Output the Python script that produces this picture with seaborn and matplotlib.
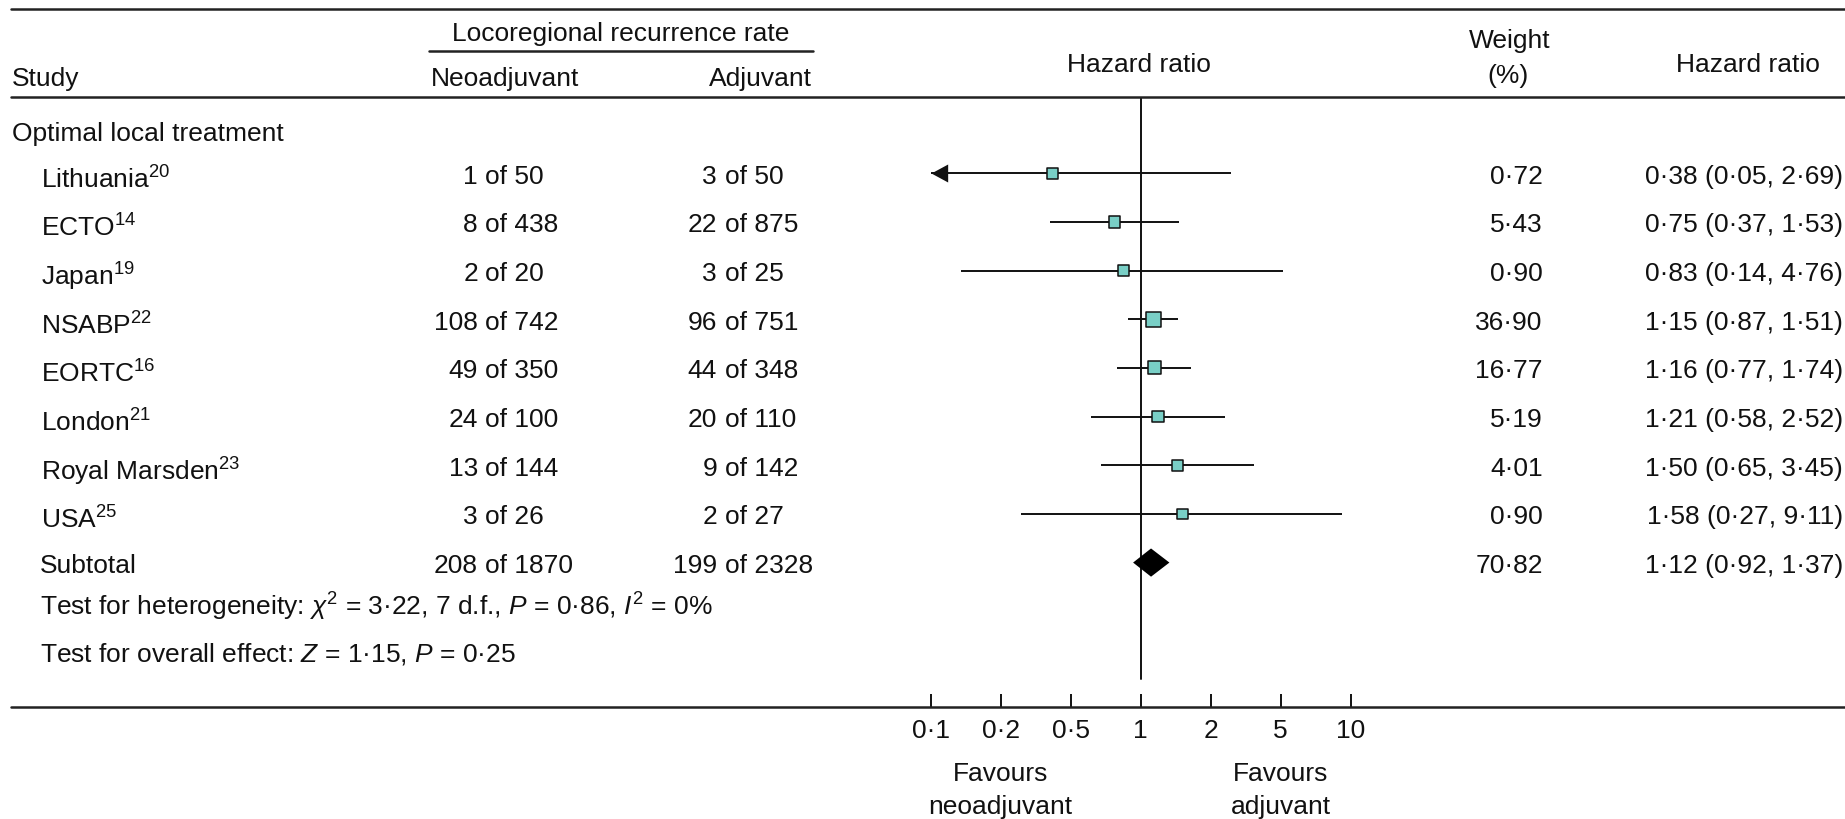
import numpy as np
import pandas as pd
import matplotlib
matplotlib.use("Agg")
import matplotlib.pyplot as plt
import seaborn as sns
from matplotlib.lines import Line2D
from matplotlib.path import Path
from matplotlib.markers import MarkerStyle
from matplotlib.ticker import NullLocator
from matplotlib.transforms import blended_transform_factory, ScaledTranslation

# ---------------- data ----------------
studies = ["Lithuania", "ECTO", "Japan", "NSABP", "EORTC", "London", "Royal Marsden", "USA"]
refs = ["20", "14", "19", "22", "16", "21", "23", "25"]
neo_events = [1, 8, 2, 108, 49, 24, 13, 3]
neo_total = [50, 438, 20, 742, 350, 100, 144, 26]
adj_events = [3, 22, 3, 96, 44, 20, 9, 2]
adj_total = [50, 875, 25, 751, 348, 110, 142, 27]
weights = [0.72, 5.43, 0.90, 36.90, 16.77, 5.19, 4.01, 0.90]
hr = [0.38, 0.75, 0.83, 1.15, 1.16, 1.21, 1.50, 1.58]
ci_low = [0.05, 0.37, 0.14, 0.87, 0.77, 0.58, 0.65, 0.27]
ci_high = [2.69, 1.53, 4.76, 1.51, 1.74, 2.52, 3.45, 9.11]

subtotal_neo = [208, 1870]
subtotal_adj = [199, 2328]
subtotal_weight = 70.82
subtotal_hr = [1.12, 0.92, 1.37]   # estimate, low, high

tick_labels = ["0·1", "0·2", "0·5", "1", "2", "5", "10"]
group_title = "Optimal local treatment"
het_text = r"Test for heterogeneity: $\chi^{\mathrm{2}}$ = 3·22, 7 d.f., $P$ = 0·86, $I^{\mathrm{2}}$ = 0%"
overall_text = r"Test for overall effect: $Z$ = 1·15, $P$ = 0·25"

# ---------------- style ----------------
sns.set_theme(style="white")
plt.rcParams["font.family"] = ["Liberation Sans", "DejaVu Sans"]
plt.rcParams["mathtext.fontset"] = "custom"
plt.rcParams["mathtext.rm"] = "Liberation Sans"
plt.rcParams["mathtext.it"] = "Liberation Sans:italic"
plt.rcParams["mathtext.bf"] = "Liberation Sans:bold"

FS = 19
TEAL = "#79CFC6"
INK = "#111111"
W, H = 1845, 819
AX_L, AX_R, AX_T, AX_B = 930.7, 1350.7, 97, 707
ROW0, ROWSTEP = 173.3, 48.66

def fx(px):
    return px / W

def fy(py):
    return 1 - py / H

def dot(v):
    return f"{v:.2f}".replace(".", "·")

fig = plt.figure(figsize=(W / 100, H / 100), dpi=100)
fig.patch.set_facecolor("white")
ax = fig.add_axes([fx(AX_L), fy(AX_B), (AX_R - AX_L) / W, (AX_B - AX_T) / H])
ax.set_facecolor("none")

n = len(studies)
rows = np.arange(n)
sub_row = n

df = pd.DataFrame({"hr": hr, "row": rows, "weight": weights,
                   "lo": ci_low, "hi": ci_high})

tick_pos = 10 ** np.linspace(-1, 1, len(tick_labels))
xmin, xmax = tick_pos[0], tick_pos[-1]

# confidence intervals
lo_clip = np.maximum(df["lo"], xmin)
ax.hlines(df["row"], lo_clip, df["hi"], color=INK, lw=1.4, zorder=3)

# arrows for truncated intervals
arrow = MarkerStyle(Path([(0, 0), (1, 0.54), (1, -0.54), (0, 0)],
                         [Path.MOVETO, Path.LINETO, Path.LINETO, Path.CLOSEPOLY]))
trunc = df[df["lo"] < xmin]
ax.plot(np.full(len(trunc), xmin), trunc["row"], linestyle="none", marker=arrow,
        markersize=24, color=INK, markeredgewidth=0, clip_on=False, zorder=5)

# squares
sns.scatterplot(data=df, x="hr", y="row", size="weight", sizes=(57, 125),
                marker="s", color=TEAL, edgecolor=INK, linewidth=1.1,
                legend=False, ax=ax, zorder=4)

# subtotal diamond
est, slo, shi = subtotal_hr
dh = 0.29
ax.fill([slo, est, shi, est], [sub_row, sub_row - dh, sub_row, sub_row + dh],
        color="black", zorder=4, lw=0)

ax.set_xscale("log")
ax.set_xlim(xmin, xmax)
ax.set_ylim((AX_B - ROW0) / ROWSTEP, (AX_T - ROW0) / ROWSTEP)
ax.axvline(1, ymin=(AX_B - 679) / (AX_B - AX_T), ymax=1, color=INK, lw=1.4, zorder=2)

for s in ax.spines.values():
    s.set_visible(False)
ax.set_xlabel("")
ax.set_ylabel("")
ax.set_yticks([])
ax.set_xticks(tick_pos)
ax.set_xticklabels(tick_labels)
ax.xaxis.set_minor_locator(NullLocator())
ax.tick_params(axis="x", direction="in", length=9.4, width=1.4, pad=8.9,
               labelsize=FS, color=INK, labelcolor=INK, bottom=True)

# rules
for y in (9, 97, 707):
    fig.add_artist(Line2D([fx(11), fx(W)], [fy(y), fy(y)], color="#222222", lw=1.8))
fig.add_artist(Line2D([fx(429), fx(813)], [fy(51), fy(51)], color="#222222", lw=1.8))

def T(x, y, s, ha="left"):
    fig.text(fx(x), fy(y), s, ha=ha, va="baseline", fontsize=FS, color=INK)

# headers
T(621, 41, "Locoregional recurrence rate", "center")
T(11.5, 86, "Study")
T(505, 86, "Neoadjuvant", "center")
T(760, 86, "Adjuvant", "center")
T(1139, 71.7, "Hazard ratio", "center")
T(1510, 48, "Weight", "center")
T(1508, 83, "(%)", "center")
T(1748, 72.3, "Hazard ratio", "center")
T(12, 140.7, group_title)
T(40, 616, het_text)
T(40, 661.7, overall_text)

# row texts (y from the forest axis rows)
def row_tf(dy_px):
    return blended_transform_factory(fig.transFigure, ax.transData) + \
        ScaledTranslation(0, -dy_px / 100, fig.dpi_scale_trans)

def R(x, row, s, ha="left", dy=10.3):
    fig.text(fx(x), row, s, ha=ha, va="baseline", fontsize=FS, color=INK,
             transform=row_tf(dy))

for i in range(n):
    R(40.7, i, studies[i] + r"$^{\mathrm{" + refs[i] + "}}$", dy=15)
    R(478, i, str(neo_events[i]), "right")
    R(485, i, f"of {neo_total[i]}")
    R(717, i, str(adj_events[i]), "right")
    R(725, i, f"of {adj_total[i]}")
    R(1542.7, i, dot(weights[i]), "right")
    R(1843, i, f"{dot(hr[i])} ({dot(ci_low[i])}, {dot(ci_high[i])})", "right")

R(40, sub_row, "Subtotal")
R(478, sub_row, str(subtotal_neo[0]), "right")
R(485, sub_row, f"of {subtotal_neo[1]}")
R(717, sub_row, str(subtotal_adj[0]), "right")
R(725, sub_row, f"of {subtotal_adj[1]}")
R(1542.7, sub_row, dot(subtotal_weight), "right")
R(1843, sub_row, f"{dot(est)} ({dot(slo)}, {dot(shi)})", "right")

# favours labels under ticks 0.2 and 5
fav_tf = blended_transform_factory(ax.transData, fig.transFigure)
for xv, word in ((tick_pos[1], "neoadjuvant"), (tick_pos[5], "adjuvant")):
    fig.text(xv, fy(780.7), "Favours", ha="center", va="baseline", fontsize=FS,
             color=INK, transform=fav_tf)
    fig.text(xv, fy(814), word, ha="center", va="baseline", fontsize=FS,
             color=INK, transform=fav_tf)

fig.savefig("out.png", dpi=100)
